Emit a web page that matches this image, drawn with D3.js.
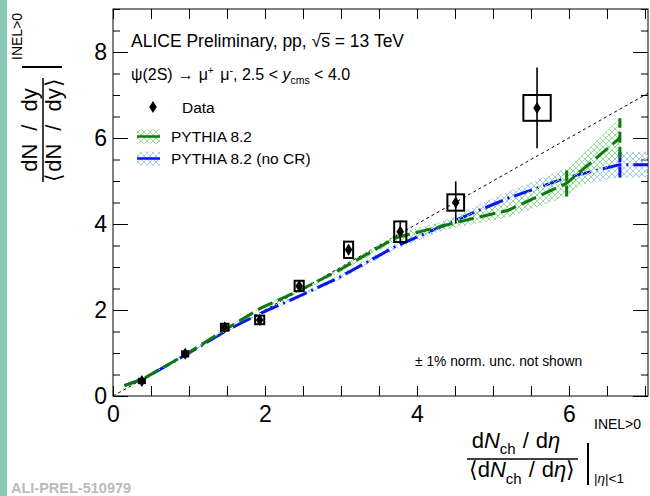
<!DOCTYPE html>
<html>
<head>
<meta charset="utf-8">
<script src="https://cdn.jsdelivr.net/npm/d3@7"></script>
<style>
body { margin: 0; background: #fff; }
svg { display: block; }
text { font-family: "Liberation Sans", Arial, Helvetica, sans-serif; }
</style>
</head>
<body>
<script>
var w = 650, h = 496;

// data points (psi(2S) self-normalised yield)
var dataX   = [0.38, 0.95, 1.47, 1.93, 2.45, 3.10, 3.78, 4.51, 5.58];
var dataY   = [0.35, 0.98, 1.60, 1.77, 2.56, 3.40, 3.82, 4.50, 6.70];
var dataStat = [0.05, 0.06, 0.07, 0.08, 0.10, 0.12, 0.26, 0.49, 0.94];
var dataSysX = [0.04, 0.04, 0.05, 0.06, 0.06, 0.06, 0.08, 0.11, 0.18];
var dataSysY = [0.05, 0.06, 0.08, 0.10, 0.12, 0.19, 0.24, 0.19, 0.30];

// PYTHIA 8.2
var pythiaX   = [0.15, 0.40, 0.97, 1.50, 1.95, 2.45, 2.98, 3.72, 4.55, 5.20, 5.97, 6.67];
var pythiaY   = [0.24, 0.40, 0.98, 1.57, 2.05, 2.45, 2.93, 3.68, 4.05, 4.32, 4.95, 6.00];
var pythiaErr = [0.01, 0.01, 0.02, 0.03, 0.04, 0.05, 0.06, 0.08, 0.12, 0.17, 0.31, 0.46];

// PYTHIA 8.2 (no CR)
var noCrX   = [0.15, 0.40, 0.97, 1.50, 1.95, 2.45, 2.98, 3.72, 4.55, 5.20, 5.97, 6.67, 7.35];
var noCrY   = [0.24, 0.40, 0.97, 1.53, 1.93, 2.32, 2.76, 3.48, 4.12, 4.60, 5.08, 5.38, 5.38];
var noCrErr = [0.01, 0.01, 0.02, 0.03, 0.04, 0.05, 0.06, 0.08, 0.12, 0.16, 0.22, 0.30, 0.30];

var xMajor = [0, 2, 4, 6];
var yMajor = [0, 2, 4, 6, 8];

var green = "#0d7a0d", blue = "#0a14f0";

var svg = d3.select("body").append("svg")
	.attr("width", w)
	.attr("height", h);

svg.append("rect").attr("width", w).attr("height", h).attr("fill", "#fff");
svg.append("rect").attr("width", 7).attr("height", h).attr("fill", "#88c9b6");

var xScale = d3.scaleLinear().domain([0, 7.04]).range([113, 648]);
var yScale = d3.scaleLinear().domain([0, 9]).range([396, 9]);

var defs = svg.append("defs");
function hatch(id, color) {
	var p = defs.append("pattern").attr("id", id)
		.attr("patternUnits", "userSpaceOnUse")
		.attr("width", 6).attr("height", 6);
	p.append("path").attr("d", "M0,0L6,6M6,0L0,6")
		.attr("stroke", color).attr("stroke-width", 0.9);
}
hatch("hatchG", "#8fdc8f");
hatch("hatchB", "#9ccaf2");

defs.append("clipPath").attr("id", "plotClip")
	.append("rect").attr("x", 113).attr("y", 9).attr("width", 535).attr("height", 387);

// ticks, pointing inwards
function ticks(axis, tr, vals, size) {
	var g = svg.append("g").attr("transform", tr)
		.call(axis.tickValues(vals).tickSize(-size).tickSizeOuter(0).tickFormat(""));
	g.select(".domain").remove();
	g.selectAll("line").attr("stroke", "#000");
	return g;
}
var halfX = d3.range(0, 7.01, 0.5), halfY = d3.range(0, 9.01, 0.5);
ticks(d3.axisBottom(xScale), "translate(0,396)", halfX, 10);
ticks(d3.axisTop(xScale), "translate(0,9)", halfX, 10);
ticks(d3.axisLeft(yScale), "translate(113,0)", halfY, 7);
ticks(d3.axisLeft(yScale), "translate(113,0)", yMajor, 15);
ticks(d3.axisRight(yScale), "translate(648,0)", halfY, 7);
ticks(d3.axisRight(yScale), "translate(648,0)", yMajor, 15);

// labels
var xl = svg.append("g").attr("transform", "translate(0,396)")
	.call(d3.axisBottom(xScale).tickValues(xMajor).tickSize(0).tickPadding(10).tickFormat(d3.format("d")));
var yl = svg.append("g").attr("transform", "translate(113,0)")
	.call(d3.axisLeft(yScale).tickValues(yMajor).tickSize(0).tickPadding(6).tickFormat(d3.format("d")));
[xl, yl].forEach(function(g) {
	g.select(".domain").remove();
	g.selectAll("text").attr("font-size", 23).attr("fill", "#000")
		.attr("font-family", "Liberation Sans, Arial, sans-serif");
});

svg.append("rect").attr("x", 113).attr("y", 9).attr("width", 535).attr("height", 387)
	.attr("fill", "none").attr("stroke", "#000").attr("stroke-width", 1);

var plot = svg.append("g").attr("clip-path", "url(#plotClip)");

// y = x reference
plot.append("line")
	.attr("x1", xScale(0)).attr("y1", yScale(0))
	.attr("x2", xScale(7.04)).attr("y2", yScale(7.04))
	.attr("stroke", "#000").attr("stroke-width", 1).attr("stroke-dasharray", "3,3");

function model(xs, ys, es, pattern, color, dash) {
	var idx = d3.range(xs.length);
	var area = d3.area()
		.x(i => xScale(xs[i]))
		.y0(i => yScale(ys[i] - es[i]))
		.y1(i => yScale(ys[i] + es[i]));
	plot.append("path").datum(idx).attr("d", area)
		.attr("fill", "url(#" + pattern + ")");
	var line = d3.line().x(i => xScale(xs[i])).y(i => yScale(ys[i]));
	plot.append("path").datum(idx).attr("d", line)
		.attr("fill", "none").attr("stroke", color).attr("stroke-width", 3)
		.attr("stroke-dasharray", dash);
	// error bars only where they stand out of the line
	plot.selectAll(null).data(idx.filter(i => es[i] > 0.25 && xs[i] < 7)).enter().append("line")
		.attr("x1", i => xScale(xs[i])).attr("x2", i => xScale(xs[i]))
		.attr("y1", i => yScale(ys[i] - es[i])).attr("y2", i => yScale(ys[i] + es[i]))
		.attr("stroke", color).attr("stroke-width", 3).attr("stroke-dasharray", "11,4");
}
model(noCrX, noCrY, noCrErr, "hatchB", blue, "19,5,2,5");
model(pythiaX, pythiaY, pythiaErr, "hatchG", green, "16,6");

// data
var di = d3.range(dataX.length);
plot.selectAll(null).data(di).enter().append("rect")
	.attr("x", i => xScale(dataX[i] - dataSysX[i]))
	.attr("y", i => yScale(dataY[i] + dataSysY[i]))
	.attr("width", i => xScale(dataX[i] + dataSysX[i]) - xScale(dataX[i] - dataSysX[i]))
	.attr("height", i => yScale(dataY[i] - dataSysY[i]) - yScale(dataY[i] + dataSysY[i]))
	.attr("fill", "none").attr("stroke", "#000").attr("stroke-width", 2);
plot.selectAll(null).data(di).enter().append("line")
	.attr("x1", i => xScale(dataX[i])).attr("x2", i => xScale(dataX[i]))
	.attr("y1", i => yScale(dataY[i] - dataStat[i])).attr("y2", i => yScale(dataY[i] + dataStat[i]))
	.attr("stroke", "#000").attr("stroke-width", 1.6);
var diamond = "M0,-6L3.8,0L0,6L-3.8,0Z";
plot.selectAll(null).data(di).enter().append("path")
	.attr("d", diamond)
	.attr("transform", i => `translate(${xScale(dataX[i])},${yScale(dataY[i])})`)
	.attr("fill", "#000");

// rich text helper
function rich(parent, x, y, size, parts, anchor) {
	var t = parent.append("text").attr("x", x).attr("y", y)
		.attr("font-size", size).attr("text-anchor", anchor || "start").attr("fill", "#000");
	var shift = 0;
	parts.forEach(function(p) {
		var s = p.shift || 0;
		var ts = t.append("tspan").text(p.t).attr("dy", s - shift);
		shift = s;
		if (p.size) ts.attr("font-size", p.size);
		if (p.it) ts.attr("font-style", "italic");
		if (p.dx) ts.attr("dx", p.dx);
	});
	return t;
}

// title
var titleStr = "ALICE Preliminary, pp, \u221As = 13 TeV";
var title = svg.append("text").attr("x", 131).attr("y", 47).attr("font-size", 17.5).text(titleStr);
var k = titleStr.indexOf("\u221A");
var e1 = title.node().getExtentOfChar(k), e2 = title.node().getExtentOfChar(k + 1);
svg.append("line").attr("x1", e1.x + e1.width - 1).attr("x2", e2.x + e2.width)
	.attr("y1", 47 - 13.5).attr("y2", 47 - 13.5).attr("stroke", "#000").attr("stroke-width", 1.2);

rich(svg, 131, 80, 16, [
	{t: "\u03C8(2S)"}, {t: "\u2192", dx: 5}, {t: "\u03BC", dx: 5}, {t: "+", size: 10, shift: -6}, {t: " \u03BC", dx: 2},
	{t: "-", size: 11, shift: -6}, {t: ", 2.5 < "}, {t: "y", it: true},
	{t: "cms", size: 10.5, shift: 4}, {t: " < 4.0"}
]);

// legend
svg.append("path").attr("d", diamond).attr("transform", "translate(153,107)").attr("fill", "#000");
svg.append("text").attr("x", 182).attr("y", 112.5).attr("font-size", 15.5).text("Data");
function legendModel(yc, pattern, color, label) {
	svg.append("rect").attr("x", 137).attr("y", yc - 7).attr("width", 23).attr("height", 14)
		.attr("fill", "url(#" + pattern + ")");
	svg.append("line").attr("x1", 137).attr("x2", 160).attr("y1", yc).attr("y2", yc)
		.attr("stroke", color).attr("stroke-width", 2.5);
	svg.append("text").attr("x", 171).attr("y", yc + 5.5).attr("font-size", 15.5).text(label);
}
legendModel(136.5, "hatchG", green, "PYTHIA 8.2");
legendModel(158.5, "hatchB", blue, "PYTHIA 8.2 (no CR)");

svg.append("text").attr("x", 415).attr("y", 366).attr("font-size", 13.8)
	.text("\u00B1 1% norm. unc. not shown");

// y title (rotated)
var yt = svg.append("g").attr("transform", "translate(0,130) rotate(-90)");
rich(yt, 0, 37, 22, [{t: "dN"}, {t: "/", dx: 13}, {t: "dy", dx: 13}], "middle");
rich(yt, 0, 61, 22, [{t: "\u27E8"}, {t: "dN", dx: 1}, {t: "/", dx: 13}, {t: "dy", dx: 13}, {t: "\u27E9", dx: 1}], "middle");
yt.append("line").attr("x1", -52).attr("x2", 52).attr("y1", 43).attr("y2", 43)
	.attr("stroke", "#000").attr("stroke-width", 1.5);
yt.append("line").attr("x1", 63).attr("x2", 63).attr("y1", 22).attr("y2", 62)
	.attr("stroke", "#000").attr("stroke-width", 2);
yt.append("text").attr("x", 70).attr("y", 22).attr("font-size", 14).text("INEL>0");

// x title
rich(svg, 516, 448, 22, [
	{t: "d"}, {t: "N", it: true}, {t: "ch", size: 15, shift: 6}, {t: "/", dx: 7}, {t: "d", dx: 7}, {t: "\u03B7", it: true}
], "middle");
rich(svg, 522, 477, 22, [
	{t: "\u27E8d"}, {t: "N", it: true}, {t: "ch", size: 15, shift: 7}, {t: "/", dx: 7}, {t: "d", dx: 7}, {t: "\u03B7", it: true}, {t: "\u27E9"}
], "middle");
svg.append("line").attr("x1", 467).attr("x2", 578).attr("y1", 459).attr("y2", 459)
	.attr("stroke", "#000").attr("stroke-width", 1.5);
svg.append("line").attr("x1", 588).attr("x2", 588).attr("y1", 443).attr("y2", 485)
	.attr("stroke", "#000").attr("stroke-width", 2);
svg.append("text").attr("x", 594).attr("y", 429).attr("font-size", 14).text("INEL>0");
rich(svg, 594, 483, 13.5, [{t: "|"}, {t: "\u03B7", it: true}, {t: "|<1"}]);

svg.append("text").attr("x", 11).attr("y", 493)
	.attr("font-family", "Liberation Mono, DejaVu Sans Mono, monospace")
	.attr("font-weight", "bold").attr("font-size", 14.5).attr("fill", "#bbbbbb")
	.text("ALI-PREL-510979");
</script>
</body>
</html>
